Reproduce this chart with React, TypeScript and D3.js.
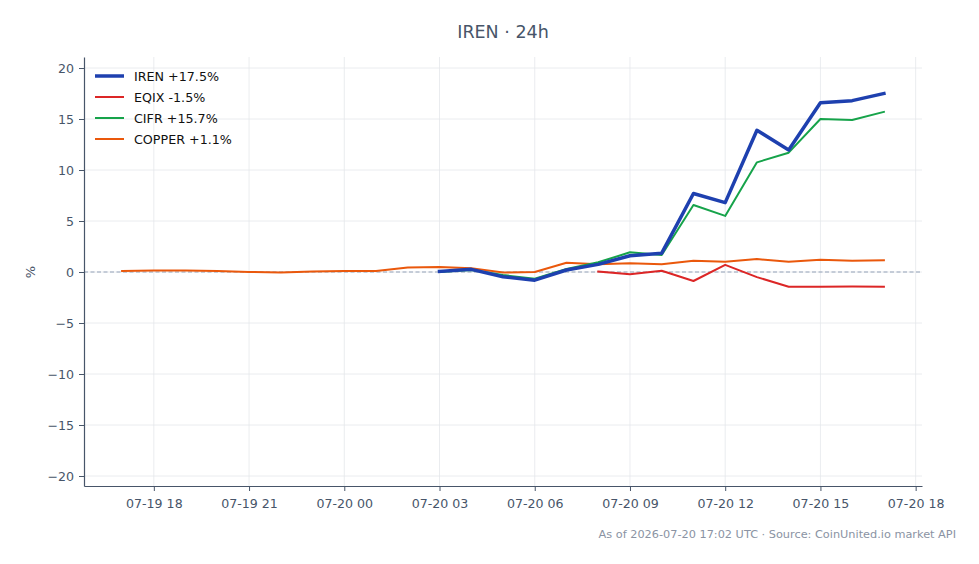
import { useRef, useEffect } from "react";
import * as d3 from "d3";

// hourly timestamps, 07-19 17:00 → 07-20 17:00 UTC
const START = Date.UTC(2026, 6, 19, 17);
const HOUR = 3600 * 1000;

const copperPct = [0.1, 0.15, 0.15, 0.1, 0.0, -0.05, 0.05, 0.1, 0.1, 0.45, 0.5, 0.38, -0.05, 0.0, 0.9, 0.75, 0.85, 0.75, 1.1, 1.0, 1.27, 1.0, 1.2, 1.1, 1.14];
// IREN & CIFR start 07-20 03:00
const irenPct = [0.05, 0.26, -0.46, -0.8, 0.2, 0.75, 1.6, 1.85, 7.7, 6.8, 13.9, 11.96, 16.6, 16.8, 17.5];
const cifrPct = [0.0, 0.2, -0.3, -0.65, 0.3, 0.95, 1.93, 1.67, 6.57, 5.5, 10.75, 11.7, 15.0, 14.9, 15.7];
// EQIX starts 07-20 08:00
const eqixPct = [0.05, -0.23, 0.13, -0.88, 0.7, -0.5, -1.44, -1.45, -1.43, -1.45];

const yTicks = [-20, -15, -10, -5, 0, 5, 10, 15, 20];

const series = [
  { label: "IREN +17.5%", values: irenPct, offset: 10, color: "#1e40af", width: 3.5 },
  { label: "EQIX -1.5%", values: eqixPct, offset: 15, color: "#dc2626", width: 2 },
  { label: "CIFR +15.7%", values: cifrPct, offset: 10, color: "#16a34a", width: 2 },
  { label: "COPPER +1.1%", values: copperPct, offset: 0, color: "#ea580c", width: 2 },
];

const W = 979;
const H = 564;
const FONT = "DejaVu Sans, sans-serif";

export default function App() {
  const svgRef = useRef<SVGSVGElement>(null);

  useEffect(() => {
    if (!svgRef.current) return;
    const svg = d3.select(svgRef.current);
    svg.selectAll("*").remove();

    const margin = { top: 57, right: 57, bottom: 78, left: 84 };
    const chartW = W - margin.left - margin.right;
    const chartH = H - margin.top - margin.bottom;

    const t0 = START - 1.2 * HOUR;
    const t1 = START + 25.2 * HOUR;
    const x = d3.scaleUtc().domain([new Date(t0), new Date(t1)]).range([0, chartW]);
    const y = d3.scaleLinear().domain([-20.98, 21.08]).range([chartH, 0]);

    const xTicks = d3.range(0, 9).map((i) => new Date(Date.UTC(2026, 6, 19, 18) + i * 3 * HOUR));
    const fmt = d3.utcFormat("%m-%d %H");

    const g = svg.append("g").attr("transform", `translate(${margin.left},${margin.top})`);

    // Grid
    g.append("g").selectAll("line").data(xTicks).join("line")
      .attr("x1", (d) => x(d)).attr("x2", (d) => x(d))
      .attr("y1", 0).attr("y2", chartH)
      .attr("stroke", "#e5e7eb").attr("stroke-width", 0.8);
    g.append("g").selectAll("line").data(yTicks).join("line")
      .attr("x1", 0).attr("x2", chartW)
      .attr("y1", (d) => y(d)).attr("y2", (d) => y(d))
      .attr("stroke", "#e5e7eb").attr("stroke-width", 0.8);

    // Zero line
    g.append("line")
      .attr("x1", 0).attr("x2", chartW).attr("y1", y(0)).attr("y2", y(0))
      .attr("stroke", "#94a3b8").attr("stroke-width", 1).attr("stroke-dasharray", "4,2.5");

    // Lines
    const line = d3.line<[number, number]>().x((d) => x(new Date(d[0]))).y((d) => y(d[1]));
    [...series].reverse().forEach((s) => {
      const pts: [number, number][] = s.values.map((v, i) => [START + (s.offset + i) * HOUR, v]);
      g.append("path")
        .datum(pts)
        .attr("d", line)
        .attr("fill", "none")
        .attr("stroke", s.color)
        .attr("stroke-width", s.width)
        .attr("stroke-linejoin", "round")
        .attr("stroke-linecap", "square");
    });

    // X axis
    const xAxis = g.append("g").attr("transform", `translate(0,${chartH})`)
      .call(d3.axisBottom(x).tickValues(xTicks).tickFormat((d) => fmt(d as Date)).tickSizeInner(5).tickSizeOuter(0).tickPadding(8));
    xAxis.select(".domain").attr("stroke", "#475569").attr("stroke-width", 1.2);
    xAxis.selectAll(".tick line").attr("stroke", "#475569");
    xAxis.selectAll("text").style("font-family", FONT).style("font-size", "12.6px").style("fill", "#475569");

    // Y axis
    const yAxis = g.append("g")
      .call(d3.axisLeft(y).tickValues(yTicks).tickFormat((d) => d3.format("d")(d as number).replace("-", "\u2212")).tickSizeInner(5).tickSizeOuter(0).tickPadding(5));
    yAxis.select(".domain").attr("stroke", "#475569").attr("stroke-width", 1.2);
    yAxis.selectAll(".tick line").attr("stroke", "#475569");
    yAxis.selectAll("text").style("font-family", FONT).style("font-size", "12.6px").style("fill", "#475569");

    // Y label
    svg.append("text")
      .attr("transform", `translate(35,${margin.top + y(0)}) rotate(-90)`)
      .attr("text-anchor", "middle")
      .style("font-family", FONT).style("font-size", "13px").style("fill", "#475569")
      .text("%");

    // Title
    svg.append("text")
      .attr("x", margin.left + chartW / 2).attr("y", 38)
      .attr("text-anchor", "middle")
      .style("font-family", FONT).style("font-size", "17.5px").style("fill", "#475569")
      .text("IREN \u00b7 24h");

    // Legend
    const legend = svg.append("g").attr("transform", `translate(95,76)`);
    series.forEach((s, i) => {
      const lg = legend.append("g").attr("transform", `translate(0,${i * 21})`);
      lg.append("line").attr("x1", 0).attr("x2", 29).attr("y1", 0).attr("y2", 0)
        .attr("stroke", s.color).attr("stroke-width", s.width);
      lg.append("text").attr("x", 39).attr("y", 4.5)
        .style("font-family", FONT).style("font-size", "12.7px").style("fill", "#111")
        .text(s.label);
    });

    // Footer
    svg.append("text")
      .attr("x", 956).attr("y", 538)
      .attr("text-anchor", "end")
      .style("font-family", FONT).style("font-size", "11.3px").style("fill", "#8a93a3")
      .text("As of 2026-07-20 17:02 UTC \u00b7 Source: CoinUnited.io market API");
  }, []);

  return (
    <svg ref={svgRef} width={W} height={H} style={{ display: "block", position: "absolute", left: 0, top: 0, background: "#fff" }} />
  );
}
